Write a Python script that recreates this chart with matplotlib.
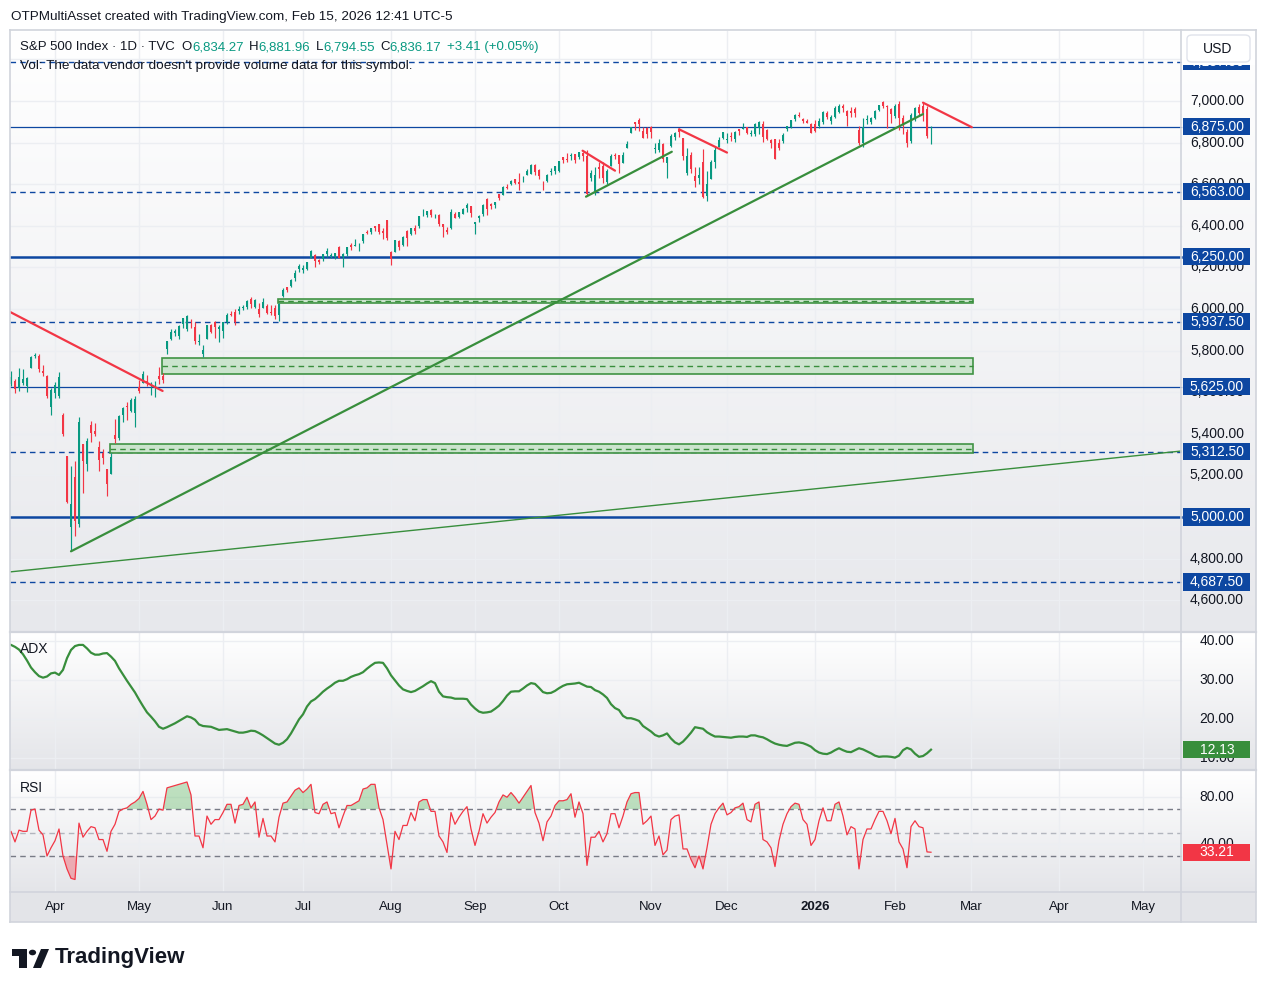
import numpy as np
import pandas as pd
import matplotlib
matplotlib.use("Agg")
import matplotlib.pyplot as plt
from matplotlib.colors import LinearSegmentedColormap
from matplotlib.lines import Line2D
from matplotlib.patches import Rectangle, Circle, Polygon, FancyBboxPatch

plt.rcParams["font.family"] = ["Liberation Sans", "DejaVu Sans"]

# ---------------------------------------------------------------- data
FIRST_DAY = "2025-03-14"
LAST_AXIS_DAY = "2026-06-12"
HOLIDAYS = ["2025-04-18", "2025-05-26", "2025-06-19", "2025-07-04", "2025-09-01",
            "2025-11-27", "2025-12-25", "2026-01-01", "2026-01-19", "2026-02-16",
            "2026-04-03", "2026-05-25"]

# daily candles, one line per month (Mar 2025 .. Feb 2026)
opens = [
    5595, 5638, 5655, 5620, 5646, 5630, 5718, 5776, 5772, 5700, 5679, 5527,
    5597, 5580, 5492, 5292, 4953, 5193, 4966, 5353, 5255, 5442, 5412, 5335, 5306, 5232, 5207, 5396, 5381, 5489, 5530, 5508, 5499,
    5626, 5645, 5655, 5605, 5622, 5680, 5680, 5807, 5854, 5885, 5869, 5929, 5902, 5944, 5915, 5842, 5782, 5855, 5925, 5939, 5903,
    5896, 5938, 5978, 5985, 5988, 6005, 6010, 6049, 6010, 6000, 6004, 6012, 5987, 6004, 5970, 6062, 6105, 6112, 6151, 6193,
    6187, 6193, 6246, 6260, 6237, 6239, 6263, 6256, 6251, 6296, 6249, 6264, 6308, 6305, 6306, 6326, 6368, 6370, 6398, 6409, 6373, 6428,
    6272, 6272, 6328, 6310, 6375, 6360, 6391, 6398, 6465, 6451, 6474, 6446, 6450, 6407, 6381, 6388, 6457, 6440, 6458, 6485, 6495,
    6409, 6437, 6457, 6527, 6503, 6500, 6551, 6550, 6587, 6601, 6623, 6611, 6628, 6645, 6650, 6693, 6670, 6607, 6616, 6661, 6664,
    6664, 6731, 6722, 6735, 6743, 6731, 6751, 6737, 6628, 6569, 6683, 6687, 6609, 6687, 6736, 6741, 6704, 6775, 6845, 6899, 6910, 6856, 6869,
    6876, 6767, 6762, 6794, 6704, 6786, 6825, 6866, 6820, 6653, 6738, 6641, 6631, 6707, 6542, 6624, 6705, 6780, 6823,
    6813, 6830, 6815, 6866, 6867, 6873, 6841, 6843, 6868, 6891, 6860, 6814, 6816, 6799, 6808, 6865, 6875, 6915, 6935, 6914, 6906, 6890,
    6890, 6880, 6900, 6940, 6905, 6925, 6945, 6975, 6950, 6950, 6960, 6860, 6800, 6910, 6900, 6920, 6955, 6995, 6975, 6960,
    6930, 6985, 6920, 6850, 6810, 6920, 6970, 6975, 6960, 6834.27,
]
highs = [
    5645, 5703, 5665, 5716, 5711, 5673, 5775, 5787, 5783, 5733, 5685, 5620,
    5651, 5695, 5500, 5293, 5247, 5267, 5481, 5353, 5381, 5460, 5450, 5367, 5329, 5233, 5309, 5469, 5489, 5528, 5553, 5572, 5581,
    5659, 5700, 5684, 5649, 5654, 5721, 5691, 5846, 5906, 5906, 5924, 5959, 5969, 5953, 5939, 5878, 5829, 5924, 5930, 5944, 5922,
    5938, 5981, 5990, 5999, 6016, 6021, 6043, 6060, 6046, 6027, 6051, 6024, 6018, 6019, 6028, 6102, 6108, 6146, 6187, 6215,
    6211, 6228, 6285, 6263, 6242, 6265, 6291, 6268, 6270, 6303, 6267, 6300, 6315, 6336, 6316, 6360, 6381, 6390, 6401, 6409, 6389, 6428,
    6277, 6331, 6333, 6352, 6379, 6390, 6406, 6447, 6481, 6473, 6481, 6459, 6456, 6410, 6394, 6479, 6466, 6467, 6486, 6508, 6495,
    6417, 6450, 6503, 6533, 6511, 6513, 6555, 6592, 6600, 6620, 6627, 6656, 6641, 6671, 6695, 6697, 6671, 6616, 6650, 6680, 6689,
    6712, 6731, 6750, 6749, 6745, 6754, 6753, 6764, 6666, 6683, 6707, 6707, 6675, 6745, 6752, 6742, 6753, 6807, 6876, 6900, 6920, 6877, 6874,
    6879, 6797, 6816, 6800, 6730, 6841, 6849, 6869, 6822, 6775, 6753, 6683, 6682, 6771, 6664, 6714, 6777, 6826, 6850,
    6844, 6851, 6857, 6867, 6895, 6876, 6859, 6894, 6903, 6905, 6863, 6819, 6818, 6816, 6845, 6880, 6911, 6937, 6945, 6917, 6912, 6895,
    6910, 6920, 6950, 6950, 6935, 6975, 6985, 6985, 6955, 6970, 6970, 6880, 6920, 6935, 6925, 6955, 6980, 7002, 6980, 6965,
    6985, 7000, 6935, 6865, 6940, 6970, 6985, 6990, 6975, 6881.96,
]
lows = [
    5590, 5631, 5597, 5605, 5633, 5603, 5718, 5764, 5695, 5680, 5573, 5489,
    5571, 5572, 5390, 5069, 4835, 4910, 4950, 5115, 5220, 5359, 5387, 5221, 5255, 5101, 5207, 5357, 5371, 5456, 5468, 5505, 5434,
    5598, 5645, 5628, 5588, 5579, 5640, 5646, 5786, 5853, 5868, 5857, 5907, 5895, 5909, 5831, 5825, 5768, 5855, 5886, 5859, 5843,
    5861, 5926, 5966, 5921, 5978, 5994, 6000, 6003, 6003, 5963, 6004, 5975, 5971, 5952, 5943, 6060, 6080, 6108, 6133, 6180,
    6175, 6188, 6246, 6202, 6218, 6231, 6250, 6246, 6238, 6243, 6201, 6257, 6285, 6303, 6281, 6317, 6360, 6362, 6375, 6360, 6335, 6331,
    6212, 6272, 6282, 6302, 6305, 6355, 6362, 6387, 6445, 6441, 6443, 6437, 6401, 6344, 6360, 6386, 6438, 6437, 6457, 6466, 6441,
    6360, 6418, 6445, 6451, 6483, 6486, 6523, 6548, 6575, 6597, 6600, 6570, 6611, 6642, 6650, 6645, 6623, 6570, 6610, 6644, 6650,
    6657, 6700, 6706, 6718, 6702, 6723, 6711, 6550, 6617, 6550, 6631, 6604, 6600, 6687, 6721, 6653, 6700, 6773, 6844, 6859, 6856, 6820, 6824,
    6822, 6751, 6756, 6708, 6631, 6777, 6811, 6826, 6714, 6646, 6654, 6585, 6603, 6535, 6521, 6623, 6680, 6780, 6817,
    6800, 6808, 6803, 6838, 6863, 6842, 6834, 6830, 6841, 6801, 6812, 6773, 6720, 6765, 6800, 6858, 6870, 6905, 6921, 6893, 6895, 6844,
    6850, 6870, 6890, 6915, 6890, 6920, 6940, 6945, 6880, 6925, 6925, 6790, 6780, 6890, 6890, 6915, 6950, 6965, 6870, 6895,
    6920, 6860, 6840, 6780, 6800, 6905, 6935, 6905, 6820, 6794.55,
]
closes = [
    5639, 5675, 5615, 5675, 5663, 5668, 5768, 5777, 5712, 5693, 5581, 5612,
    5633, 5671, 5397, 5074, 5062, 4983, 5457, 5268, 5363, 5406, 5397, 5276, 5283, 5158, 5288, 5376, 5485, 5525, 5529, 5561, 5569,
    5604, 5687, 5650, 5607, 5631, 5664, 5660, 5844, 5887, 5893, 5917, 5958, 5964, 5940, 5845, 5842, 5803, 5922, 5889, 5912, 5912,
    5936, 5970, 5971, 5939, 6000, 6006, 6039, 6022, 6045, 5977, 6033, 5983, 5981, 5968, 6025, 6092, 6092, 6141, 6173, 6205,
    6198, 6227, 6279, 6230, 6226, 6263, 6280, 6260, 6269, 6244, 6264, 6297, 6297, 6306, 6310, 6359, 6363, 6389, 6390, 6371, 6363, 6339,
    6238, 6330, 6299, 6345, 6340, 6389, 6373, 6446, 6467, 6469, 6450, 6449, 6411, 6396, 6370, 6467, 6439, 6466, 6481, 6502, 6460,
    6416, 6448, 6502, 6482, 6495, 6513, 6532, 6587, 6584, 6615, 6607, 6600, 6632, 6664, 6694, 6657, 6638, 6605, 6644, 6661, 6688,
    6711, 6715, 6716, 6740, 6715, 6754, 6735, 6553, 6655, 6644, 6671, 6629, 6664, 6735, 6735, 6699, 6738, 6792, 6875, 6891, 6891, 6822, 6840,
    6852, 6772, 6796, 6720, 6729, 6832, 6847, 6851, 6737, 6734, 6672, 6617, 6642, 6539, 6603, 6705, 6766, 6813, 6849,
    6813, 6829, 6850, 6857, 6870, 6847, 6841, 6887, 6901, 6827, 6817, 6800, 6721, 6775, 6835, 6878, 6910, 6932, 6930, 6906, 6896, 6846,
    6858, 6902, 6945, 6921, 6921, 6966, 6977, 6964, 6927, 6944, 6940, 6797, 6876, 6913, 6916, 6950, 6979, 6978, 6969, 6939,
    6976, 6918, 6883, 6798, 6932, 6965, 6942, 6941, 6832.76, 6836.17,
]

adx = [
    39.3, 39.0, 38.5, 37.8, 36.6, 35.0, 33.2, 32.0, 31.0, 30.6,
    30.9, 31.7, 31.9, 31.3, 32.6, 35.6, 37.7, 38.7, 39.0, 39.0,
    38.1, 37.0, 36.5, 36.5, 36.8, 36.9, 36.0, 34.9, 33.0, 31.4,
    29.8, 28.3, 26.8, 25.0, 23.3, 21.7, 20.6, 19.4, 18.0, 17.5,
    17.9, 18.4, 18.9, 19.5, 20.1, 20.7, 20.4, 19.8, 18.6, 18.2,
    18.1, 18.0, 17.6, 17.2, 17.3, 17.4, 17.1, 16.8, 16.5, 16.5,
    16.7, 17.0, 16.9, 16.4, 15.8, 15.1, 14.4, 13.7, 13.4, 13.9,
    14.8, 16.3, 18.1, 19.9, 21.2, 23.2, 24.5, 25.1, 26.0, 27.0,
    27.8, 28.5, 29.3, 29.8, 29.8, 30.2, 30.8, 31.2, 31.5, 32.0,
    32.9, 33.7, 34.4, 34.5, 34.4, 33.0, 31.2, 29.9, 28.6, 27.6,
    27.2, 26.9, 27.2, 27.8, 28.4, 29.1, 29.7, 29.2, 27.0, 25.8,
    25.6, 25.5, 25.2, 25.2, 25.2, 25.1, 23.7, 22.7, 21.9, 21.6,
    21.7, 21.9, 22.6, 23.4, 24.6, 26.0, 27.0, 27.1, 27.1, 27.8,
    28.6, 29.2, 29.0, 28.0, 26.9, 26.6, 26.7, 27.2, 27.9, 28.5,
    28.9, 29.0, 29.1, 29.3, 28.8, 28.3, 28.2, 27.4, 27.0, 26.3,
    25.4, 23.8, 22.8, 22.3, 20.8, 20.2, 20.2, 19.9, 19.5, 18.2,
    17.5, 16.8, 15.9, 15.5, 15.8, 16.3, 15.0, 14.0, 13.5, 14.2,
    15.3, 16.5, 17.9, 17.7, 17.5, 16.6, 16.0, 15.5, 15.5, 15.4,
    15.3, 15.2, 15.4, 15.5, 15.5, 15.4, 15.8, 15.8, 15.5, 15.3,
    14.8, 14.2, 13.7, 13.4, 13.2, 13.1, 13.5, 13.9, 14.0, 13.8,
    13.4, 12.9, 12.0, 11.4, 11.1, 11.0, 11.4, 12.0, 12.5, 12.0,
    11.6, 11.5, 12.0, 12.5, 12.2, 11.7, 11.2, 10.6, 10.3, 10.4,
    10.4, 10.3, 10.1, 10.6, 12.0, 12.6, 12.2, 11.1, 10.3, 10.5,
    11.2, 12.13,
]

rsi = [
    48, 51, 42, 52, 51, 51, 69, 70, 52, 48,
    30, 37, 43, 53, 30, 19, 11, 10, 58, 46,
    51, 55, 54, 44, 44, 34, 51, 57, 68, 70,
    71, 74, 76, 79, 85, 74, 61, 64, 70, 69,
    88, 89, 90, 91, 92, 93, 82, 47, 47, 37,
    64, 57, 61, 61, 67, 74, 74, 58, 73, 74,
    80, 71, 76, 46, 62, 47, 47, 42, 63, 75,
    76, 81, 86, 88, 84, 87, 91, 67, 66, 74,
    76, 66, 67, 54, 64, 73, 73, 75, 77, 87,
    88, 91, 91, 71, 61, 40, 19, 51, 44, 56,
    56, 67, 60, 76, 78, 78, 68, 68, 47, 42,
    33, 67, 57, 63, 68, 72, 53, 39, 51, 66,
    58, 63, 67, 76, 82, 80, 84, 80, 75, 80,
    85, 90, 67, 58, 43, 59, 64, 73, 77, 77,
    78, 83, 63, 76, 66, 22, 46, 46, 51, 42,
    49, 66, 66, 54, 64, 76, 83, 84, 84, 57,
    60, 64, 39, 47, 31, 35, 61, 64, 65, 36,
    36, 27, 20, 30, 19, 37, 57, 66, 71, 75,
    65, 67, 71, 72, 75, 61, 59, 74, 76, 44,
    42, 37, 21, 43, 57, 66, 72, 75, 74, 61,
    57, 39, 44, 60, 71, 60, 60, 74, 76, 64,
    48, 55, 53, 19, 44, 53, 53, 61, 68, 68,
    60, 49, 62, 42, 36, 20, 55, 60, 55, 54,
    33.5, 33.21,
]

# horizontal levels drawn on the price pane
dashed_levels = [7187.5, 6563, 5937.5, 5312.5, 4687.5]
thin_levels = [6875, 5625]
thick_levels = [6250, 5000]

# green zones: first bar, last bar, low, high, middle
zone_start_bar = [67.75, 38.75, 25.75]
zone_end_bar = [241.5, 241.5, 241.5]
zone_low = [6027, 5686, 5306]
zone_high = [6047, 5763, 5349]
zone_mid = [6037, 5726, 5327]

# trend lines: (bar, price) -> (bar, price)
red_lines = [((0.75, 5986), (38.9, 5606)),
             ((143.9, 6761), (152, 6665)),
             ((168, 6864), (180, 6752)),
             ((229, 6992), (241.2, 6874))]
green_lines = [((16, 4835), (229, 6937)),
               ((144.75, 6540), (166.2, 6756))]
green_thin_lines = [((0.75, 4736), (293.5, 5317))]

price_ticks = [4600, 4800, 5000, 5200, 5400, 5600, 5800, 6000, 6200, 6400, 6600, 6800, 7000]
grid_prices = price_ticks + [7200]
adx_ticks = [10, 20, 30, 40]
rsi_ticks = [40, 80]

# ---------------------------------------------------------------- style
W, H = 1267, 992
GREEN = "#089981"
RED = "#f23645"
BLUE = "#0d47a1"
LINE_GREEN = "#388e3c"
TEXT = "#131722"
GRID = "#eceef2"
FRAME = "#d1d4dc"

X_LEFT, X_RIGHT, X_SCALE = 10, 1256, 1181     # pane left, pane right, price scale edge
BAR0_PX, BAR_PX = 7, 4.0                       # pixel of bar 0, pixels per bar
XLIM = ((X_LEFT - BAR0_PX) / BAR_PX, (X_RIGHT - BAR0_PX) / BAR_PX)
SCALE_FRAC = (X_SCALE - X_LEFT) / (X_RIGHT - X_LEFT)


def axfrac(px):
    return (px - X_LEFT) / (X_RIGHT - X_LEFT)


def fig_xy(x, y):
    return x / W, 1 - y / H


fig = plt.figure(figsize=(W / 100, H / 100), dpi=100)
fig.patch.set_facecolor("white")


def make_pane(y_top, y_bot, ylim, bottom_color):
    ax = fig.add_axes([X_LEFT / W, 1 - y_bot / H, (X_RIGHT - X_LEFT) / W, (y_bot - y_top) / H])
    grad = np.linspace(0, 1, 256).reshape(-1, 1)
    cmap = LinearSegmentedColormap.from_list("bg", ["#ffffff", bottom_color])
    ax.imshow(grad, extent=(0, 1, 0, 1), transform=ax.transAxes, cmap=cmap,
              aspect="auto", origin="upper", zorder=0)
    ax.set_xlim(*XLIM)
    ax.set_ylim(*ylim)
    ax.set_autoscale_on(False)
    ax.set_xticks([])
    ax.set_yticks([])
    for s in ax.spines.values():
        s.set_visible(False)
    return ax


ax_p = make_pane(31, 632, (4447.1, 7336.5), "#e7e8ec")
ax_a = make_pane(632, 770, (6.92, 42.31), "#e4e5e9")
ax_r = make_pane(770, 892, (-0.64, 103.2), "#e4e5e9")
ax_t = fig.add_axes([X_LEFT / W, 1 - 922 / H, (X_RIGHT - X_LEFT) / W, 30 / H])
ax_t.set_facecolor("#e3e4e8")
ax_t.set_xlim(*XLIM)
ax_t.set_ylim(0, 1)
ax_t.set_xticks([])
ax_t.set_yticks([])
for s in ax_t.spines.values():
    s.set_visible(False)

# ---------------------------------------------------------------- dates / months
days = pd.bdate_range(FIRST_DAY, LAST_AXIS_DAY)
days = days[~days.isin(pd.to_datetime(HOLIDAYS))]
month_bars = [i for i in range(1, len(days))
              if days[i].month != days[i - 1].month and i < (X_SCALE - BAR0_PX) / BAR_PX]
month_labels = [("2026" if days[i].month == 1 else days[i].strftime("%b")) for i in month_bars]

for ax in (ax_p, ax_a, ax_r):
    for i in month_bars:
        ax.axvline(i, color=GRID, lw=1, zorder=1)

for i, lab in zip(month_bars, month_labels):
    ax_t.text(i, 0.5, lab, ha="center", va="center", fontsize=9.5, color=TEXT,
              fontweight="bold" if lab == "2026" else "normal")

# ---------------------------------------------------------------- price pane
for p in grid_prices:
    ax_p.axhline(p, xmax=SCALE_FRAC, color=GRID, lw=1, zorder=1)

for p in dashed_levels:
    ax_p.axhline(p, xmax=SCALE_FRAC, color=BLUE, lw=1, dashes=(4, 3), zorder=3)
for p in thin_levels:
    ax_p.axhline(p, xmax=SCALE_FRAC, color=BLUE, lw=0.9, zorder=3)
for p in thick_levels:
    ax_p.axhline(p, xmax=SCALE_FRAC, color=BLUE, lw=1.8, zorder=3)

for x0, x1, lo, hi, mid in zip(zone_start_bar, zone_end_bar, zone_low, zone_high, zone_mid):
    ax_p.add_patch(Rectangle((x0, lo), x1 - x0, hi - lo, facecolor="#c9e4cb",
                             edgecolor=LINE_GREEN, lw=1.2, alpha=0.95, zorder=4))
    ax_p.plot([x0, x1], [mid, mid], color=LINE_GREEN, lw=1, dashes=(4, 3), zorder=4)

o = np.array(opens, dtype=float)
h = np.array(highs, dtype=float)
l = np.array(lows, dtype=float)
c = np.array(closes, dtype=float)
bars = np.arange(len(c))
cols = np.where(c >= o, GREEN, RED)
ax_p.vlines(bars, l, h, colors=cols, lw=0.85, zorder=5)
ax_p.bar(bars, np.maximum(np.abs(c - o), 3), bottom=np.minimum(o, c), width=0.72,
         color=cols, linewidth=0, zorder=6)

for (a, b) in red_lines:
    ax_p.plot([a[0], b[0]], [a[1], b[1]], color=RED, lw=1.6, zorder=7,
              solid_capstyle="round")
for (a, b) in green_lines:
    ax_p.plot([a[0], b[0]], [a[1], b[1]], color=LINE_GREEN, lw=1.6, zorder=7,
              solid_capstyle="round")
for (a, b) in green_thin_lines:
    ax_p.plot([a[0], b[0]], [a[1], b[1]], color=LINE_GREEN, lw=1.0, zorder=7)

TAG_X0, TAG_W = axfrac(1183), (1250 - 1183) / (X_RIGHT - X_LEFT)
LABEL_X = axfrac(1217)


def scale_label(ax, value, text):
    ax.text(LABEL_X, value, text, transform=ax.get_yaxis_transform(), ha="center",
            va="center", fontsize=10, color=TEXT, zorder=20, clip_on=False)


def scale_tag(ax, value, text, face, px_per_unit):
    hgt = 17 / px_per_unit
    ax.add_patch(FancyBboxPatch((TAG_X0, value - hgt / 2), TAG_W, hgt,
                                boxstyle="square,pad=0", transform=ax.get_yaxis_transform(),
                                facecolor=face, edgecolor="none", zorder=30, clip_on=False))
    ax.text(LABEL_X, value, text, transform=ax.get_yaxis_transform(), ha="center",
            va="center", fontsize=10, color="white", zorder=31, clip_on=False)


for p in price_ticks:
    scale_label(ax_p, p, f"{p:,.2f}")
for p in dashed_levels + thin_levels + thick_levels:
    scale_tag(ax_p, p, f"{p:,.2f}", BLUE, 0.2079)

# ---------------------------------------------------------------- ADX pane
for v in adx_ticks:
    ax_a.axhline(v, xmax=SCALE_FRAC, color=GRID, lw=1, zorder=1)
    scale_label(ax_a, v, f"{v:.2f}")
ax_a.plot(bars, adx, color=LINE_GREEN, lw=1.6, zorder=5)
scale_tag(ax_a, adx[-1], f"{adx[-1]:.2f}", LINE_GREEN, 3.9)

# ---------------------------------------------------------------- RSI pane
for v in rsi_ticks:
    ax_r.axhline(v, xmax=SCALE_FRAC, color=GRID, lw=1, zorder=1)
    scale_label(ax_r, v, f"{v:.2f}")
for v, col in ((70, "#787b86"), (50, "#b2b5be"), (30, "#787b86")):
    ax_r.axhline(v, xmax=SCALE_FRAC, color=col, lw=1, dashes=(4, 3), zorder=2)
r = np.array(rsi, dtype=float)
ax_r.fill_between(bars, r, 70, where=r > 70, interpolate=True, color="#4caf50",
                  alpha=0.35, linewidth=0, zorder=3)
ax_r.fill_between(bars, r, 30, where=r < 30, interpolate=True, color=RED,
                  alpha=0.35, linewidth=0, zorder=3)
ax_r.plot(bars, r, color=RED, lw=0.9, zorder=5)
scale_tag(ax_r, rsi[-1], f"{rsi[-1]:.2f}", RED, 1.175)

# ---------------------------------------------------------------- frame
def fig_line(x0, y0, x1, y1, color=FRAME, lw=1.2):
    fig.add_artist(Line2D([x0 / W, x1 / W], [1 - y0 / H, 1 - y1 / H], color=color,
                          lw=lw, transform=fig.transFigure, zorder=5))


fig_line(X_LEFT, 30, X_RIGHT, 30)
fig_line(X_LEFT, 922, X_RIGHT, 922)
fig_line(X_LEFT, 30, X_LEFT, 922)
fig_line(X_RIGHT, 30, X_RIGHT, 922)
fig_line(X_LEFT, 632, X_RIGHT, 632, lw=1.6)
fig_line(X_LEFT, 770, X_RIGHT, 770, lw=1.6)
fig_line(X_LEFT, 892, X_RIGHT, 892)
fig_line(X_SCALE, 30, X_SCALE, 922)

# currency box (hides most of the top level tag, as on the original)
hx, hy = fig_xy(X_SCALE + 1, 65)
fig.add_artist(Rectangle((hx, hy), (X_RIGHT - X_SCALE - 2) / W, 34 / H,
                         transform=fig.transFigure, facecolor="white", edgecolor="none",
                         zorder=6))
ux, uy = fig_xy(1187, 62)
fig.add_artist(FancyBboxPatch((ux, uy), 63 / W, 27 / H, boxstyle="round,pad=0,rounding_size=0.004",
                              transform=fig.transFigure, facecolor="white",
                              edgecolor="#e0e3eb", lw=1, zorder=7))
fig.text(*fig_xy(1218, 49), "USD", ha="center", va="center", fontsize=10, color=TEXT, zorder=8)

# ---------------------------------------------------------------- texts
fig.text(*fig_xy(11, 17), "OTPMultiAsset created with TradingView.com, Feb 15, 2026 12:41 UTC-5",
         fontsize=9.7, color=TEXT, va="center")

change = closes[-1] - closes[-2]
pct = change / closes[-2] * 100
legend_parts = [("S&P 500 Index \u00b7 1D \u00b7 TVC", TEXT, 0),
                ("O", TEXT, 5), (f"{opens[-1]:,.2f}", GREEN, 0),
                ("H", TEXT, 4), (f"{highs[-1]:,.2f}", GREEN, 0),
                ("L", TEXT, 4), (f"{lows[-1]:,.2f}", GREEN, 0),
                ("C", TEXT, 4), (f"{closes[-1]:,.2f}", GREEN, 0),
                (f"{change:+.2f} ({pct:+.2f}%)", GREEN, 4)]


def chain(parts, x, y, size):
    prev = fig.text(*fig_xy(x, y), parts[0][0], color=parts[0][1], fontsize=size, va="center",
                    zorder=8)
    for txt, col, gap in parts[1:]:
        prev = ax_p.annotate(txt, xy=(1, 0.5), xycoords=prev, xytext=(gap, 0),
                             textcoords="offset points", va="center", ha="left",
                             color=col, fontsize=size, annotation_clip=False, zorder=8)


chain(legend_parts, 20, 47, 9.5)
fig.text(*fig_xy(20, 66), "Vol: The data vendor doesn't provide volume data for this symbol.",
         fontsize=9.7, color=TEXT, va="center", zorder=8)
chain([("ADX", TEXT, 0), (f"{adx[-1]:.2f}", LINE_GREEN, 5)], 20, 649, 10)
chain([("RSI", TEXT, 0), (f"{rsi[-1]:.2f}", RED, 5)], 20, 788, 10)

# TradingView logo
logo = "#131722"
for pts in ([(12, 949), (27, 949), (27, 956), (12, 956)],
            [(19, 949), (27, 949), (27, 968), (19, 968)],
            [(33, 968), (41, 968), (49, 949), (41, 949)]):
    fig.add_artist(Polygon([fig_xy(px, py) for px, py in pts], closed=True,
                           transform=fig.transFigure, facecolor=logo, edgecolor="none"))
cx, cy = fig_xy(32.5, 952.5)
fig.add_artist(Circle((cx, cy), 3.6 / W, transform=fig.transFigure, facecolor=logo,
                      edgecolor="none"))
fig.text(*fig_xy(55, 958), "TradingView", fontsize=16, fontweight="bold", color=logo,
         va="center")

fig.savefig("out.png", dpi=100)
